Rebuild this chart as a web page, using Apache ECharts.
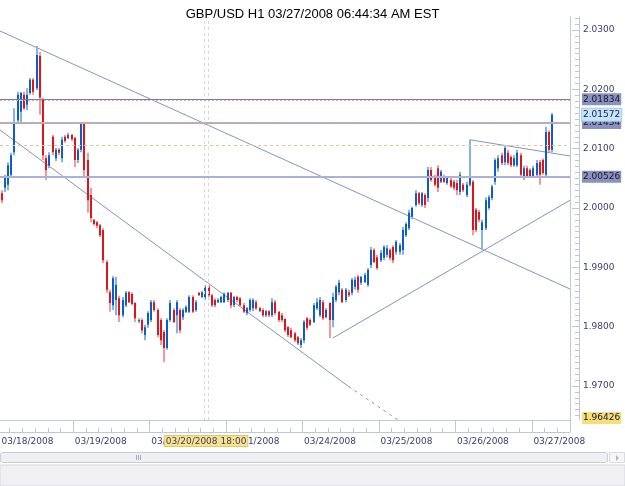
<!DOCTYPE html>
<html><head><meta charset="utf-8">
<script src="https://cdn.jsdelivr.net/npm/echarts@6/dist/echarts.min.js"></script>
<style>html,body{margin:0;padding:0;background:#fff;}#c{width:625px;height:486px;}</style>
</head><body><div id="c"></div>
<script>
// ---- data ----
const dayLabels = ['03/18/2008','03/19/2008','03/20/2008','03/21/2008','03/24/2008','03/25/2008','03/26/2008','03/27/2008'];
const yTickLabels = ['1.9700','1.9800','1.9900','2.0000','2.0100','2.0200','2.0300'];
// [open, close, low, high] per hour
const d0318 = [[2.0025,2.0013,2.0008,2.0030],[2.0034,2.0051,2.0027,2.0056],[2.0039,2.0072,2.0030,2.0077],[2.0056,2.0089,2.0051,2.0093],[2.0094,2.0145,2.0089,2.0168],[2.0148,2.0191,2.0143,2.0196],[2.0162,2.0194,2.0145,2.0196],[2.0191,2.0168,2.0165,2.0196],[2.0174,2.0191,2.0165,2.0202],[2.0194,2.0216,2.0191,2.0219],[2.0216,2.0196,2.0191,2.0219],[2.0202,2.0258,2.0199,2.0273],[2.0256,2.0186,2.0157,2.0263],[2.0182,2.0089,2.0081,2.0186],[2.0084,2.0064,2.0047,2.0089],[2.0071,2.0089,2.0067,2.0094],[2.0120,2.0094,2.0089,2.0123],[2.0084,2.0098,2.0079,2.0101],[2.0098,2.0093,2.0089,2.0101],[2.0084,2.0115,2.0077,2.0120],[2.0120,2.0113,2.0110,2.0123],[2.0118,2.0123,2.0116,2.0127],[2.0123,2.0116,2.0113,2.0125]];
const d0319 = [[2.0118,2.0081,2.0069,2.0120],[2.0081,2.0098,2.0076,2.0101],[2.0098,2.0142,2.0094,2.0143],[2.0142,2.0064,2.0051,2.0143],[2.0081,2.0013,1.9992,2.0093],[2.0022,1.9983,1.9976,2.0034],[1.9980,1.9973,1.9970,1.9981],[1.9976,1.9970,1.9966,1.9978],[1.9971,1.9954,1.9951,1.9973],[1.9963,1.9912,1.9907,1.9966],[1.9909,1.9862,1.9857,1.9912],[1.9858,1.9840,1.9825,1.9862],[1.9836,1.9882,1.9828,1.9885],[1.9845,1.9870,1.9819,1.9884],[1.9848,1.9819,1.9808,1.9852],[1.9819,1.9845,1.9816,1.9850],[1.9836,1.9857,1.9833,1.9860],[1.9858,1.9841,1.9840,1.9860],[1.9855,1.9838,1.9836,1.9858],[1.9840,1.9814,1.9808,1.9841],[1.9809,1.9811,1.9806,1.9814],[1.9811,1.9794,1.9789,1.9814],[1.9786,1.9799,1.9777,1.9803],[1.9803,1.9823,1.9798,1.9826]];
const d0320 = [[1.9811,1.9841,1.9808,1.9845],[1.9841,1.9828,1.9825,1.9845],[1.9828,1.9786,1.9782,1.9831],[1.9811,1.9777,1.9769,1.9814],[1.9791,1.9764,1.9740,1.9794],[1.9764,1.9811,1.9761,1.9814],[1.9811,1.9840,1.9808,1.9845],[1.9828,1.9808,1.9806,1.9831],[1.9819,1.9841,1.9789,1.9845],[1.9828,1.9794,1.9789,1.9831],[1.9816,1.9828,1.9811,1.9831],[1.9825,1.9833,1.9823,1.9836],[1.9825,1.9850,1.9823,1.9853],[1.9850,1.9825,1.9823,1.9853],[1.9828,1.9841,1.9825,1.9845],[1.9857,1.9853,1.9852,1.9858],[1.9850,1.9858,1.9848,1.9860],[1.9848,1.9867,1.9845,1.9870],[1.9867,1.9853,1.9850,1.9870],[1.9853,1.9836,1.9833,1.9855],[1.9845,1.9836,1.9833,1.9848],[1.9841,1.9845,1.9840,1.9848],[1.9841,1.9850,1.9840,1.9852],[1.9841,1.9855,1.9840,1.9858]];
const d0321 = [[1.9845,1.9857,1.9841,1.9858],[1.9857,1.9836,1.9831,1.9858],[1.9836,1.9850,1.9833,1.9852],[1.9850,1.9845,1.9841,1.9852],[1.9848,1.9836,1.9833,1.9850],[1.9836,1.9825,1.9823,1.9840],[1.9823,1.9831,1.9819,1.9833],[1.9828,1.9845,1.9825,1.9848],[1.9831,1.9845,1.9826,1.9848],[1.9841,1.9831,1.9828,1.9845],[1.9831,1.9826,1.9825,1.9833],[1.9828,1.9819,1.9816,1.9831],[1.9819,1.9826,1.9816,1.9828],[1.9826,1.9819,1.9816,1.9828],[1.9819,1.9841,1.9816,1.9848],[1.9841,1.9823,1.9819,1.9845],[1.9825,1.9811,1.9808,1.9826],[1.9819,1.9811,1.9808,1.9823],[1.9813,1.9794,1.9791,1.9814],[1.9799,1.9786,1.9782,1.9801],[1.9794,1.9782,1.9781,1.9798],[1.9789,1.9777,1.9774,1.9791],[1.9782,1.9772,1.9769,1.9784],[1.9769,1.9777,1.9764,1.9781]];
const d0324 = [[1.9777,1.9808,1.9772,1.9811],[1.9814,1.9798,1.9794,1.9816],[1.9811,1.9803,1.9801,1.9814],[1.9808,1.9836,1.9806,1.9840],[1.9831,1.9841,1.9828,1.9848],[1.9819,1.9845,1.9816,1.9850],[1.9841,1.9814,1.9811,1.9845],[1.9816,1.9828,1.9814,1.9831],[1.9840,1.9811,1.9781,1.9841],[1.9811,1.9850,1.9799,1.9857],[1.9845,1.9867,1.9841,1.9870],[1.9858,1.9874,1.9853,1.9879],[1.9862,1.9841,1.9840,1.9865],[1.9845,1.9862,1.9841,1.9865],[1.9858,1.9853,1.9850,1.9862],[1.9857,1.9879,1.9853,1.9882],[1.9867,1.9879,1.9862,1.9884],[1.9884,1.9862,1.9857,1.9887],[1.9874,1.9884,1.9870,1.9885],[1.9875,1.9887,1.9874,1.9891],[1.9870,1.9896,1.9867,1.9899],[1.9904,1.9929,1.9899,1.9934],[1.9929,1.9909,1.9907,1.9932],[1.9917,1.9899,1.9896,1.9921]];
const d0325 = [[1.9912,1.9924,1.9909,1.9929],[1.9916,1.9934,1.9912,1.9937],[1.9921,1.9932,1.9917,1.9937],[1.9929,1.9916,1.9912,1.9932],[1.9934,1.9912,1.9907,1.9937],[1.9926,1.9943,1.9921,1.9946],[1.9926,1.9937,1.9921,1.9941],[1.9929,1.9963,1.9921,1.9968],[1.9954,1.9973,1.9951,1.9976],[1.9966,1.9992,1.9963,1.9997],[1.9985,2.0000,1.9981,2.0002],[2.0005,2.0025,2.0002,2.0030],[2.0025,2.0008,2.0005,2.0027],[2.0005,2.0025,2.0002,2.0027],[2.0022,2.0005,2.0000,2.0025],[2.0017,2.0064,2.0010,2.0069],[2.0064,2.0047,2.0044,2.0069],[2.0052,2.0039,2.0036,2.0056],[2.0067,2.0034,2.0027,2.0072],[2.0044,2.0061,2.0042,2.0064],[2.0052,2.0044,2.0042,2.0056],[2.0042,2.0051,2.0039,2.0052],[2.0047,2.0036,2.0034,2.0051],[2.0044,2.0034,2.0030,2.0047]];
const d0326 = [[2.0042,2.0030,2.0022,2.0047],[2.0027,2.0056,2.0022,2.0061],[2.0039,2.0030,2.0027,2.0042],[2.0022,2.0039,2.0018,2.0044],[2.0039,2.0052,2.0036,2.0115],[2.0044,1.9963,1.9954,2.0047],[1.9997,1.9963,1.9959,2.0000],[1.9993,1.9980,1.9976,1.9997],[1.9963,1.9976,1.9929,1.9980],[1.9966,2.0013,1.9963,2.0018],[2.0000,2.0018,1.9997,2.0022],[2.0017,2.0036,2.0013,2.0039],[2.0044,2.0081,2.0039,2.0084],[2.0067,2.0084,2.0061,2.0089],[2.0089,2.0076,2.0072,2.0093],[2.0077,2.0101,2.0072,2.0106],[2.0093,2.0076,2.0072,2.0098],[2.0086,2.0072,2.0069,2.0089],[2.0072,2.0084,2.0069,2.0089],[2.0072,2.0093,2.0069,2.0098],[2.0089,2.0056,2.0052,2.0093],[2.0052,2.0067,2.0047,2.0071],[2.0067,2.0052,2.0051,2.0071],[2.0064,2.0052,2.0051,2.0067]];
const d0327 = [[2.0052,2.0067,2.0051,2.0071],[2.0056,2.0076,2.0052,2.0081],[2.0077,2.0056,2.0039,2.0081],[2.0081,2.0059,2.0056,2.0084],[2.0056,2.0128,2.0052,2.0137],[2.0128,2.0098,2.0094,2.0131],[2.0098,2.01572,2.0094,2.0160]];
// horizontal price levels
const levelSolid = [2.01834, 2.01434, 2.00526];
const bidLevel = 2.01572;
const askLevel = 2.01061;
const axisMin = 1.96426, axisMax = 2.03219;
// trend lines: [hourIndex, price]
const trend1 = [[-0.5, 2.02983], [178.5, 1.98634]];
const trend2 = [[-0.5, 2.01314], [109, 1.96990]];
const trend2ext = [[109, 1.96990], [125.2, 1.96400]];
const trend3 = [[104, 1.97807], [178.5, 2.00130]];
const trend4 = [[147, 2.01150], [178.5, 2.00876]];
const crossIndex = 64.2, crossLabel = '03/20/2008 18:00';

// ---- build ----
const pad = n => (n < 10 ? '0' : '') + n;
let categories = [];
dayLabels.forEach((d, i) => { for (let h = (i === 0 ? 1 : 0); h < 24; h++) categories.push(d + ' ' + pad(h) + ':00'); });
categories = categories.slice(0, 179);
const allCandles = [].concat(d0318, d0319, d0320, d0321, d0324, d0325, d0326, d0327);
const candleData = allCandles.map((c, k) => [k, c[0], c[1], c[2], c[3]]);
const majorTicks = yTickLabels.map(Number);
const minorTicks = []; for (let i = 1965; i <= 2032; i++) minorTicks.push(i / 1000);

const AX = '#c2c6da', TXT = '#3a3c6a', FONT = 'DejaVu Sans', CLEAR = 'rgba(0,0,0,0)';
function renderCandle(params, api) {
  const k = api.value(0), o = api.value(1), c = api.value(2), l = api.value(3), h = api.value(4);
  const pO = api.coord([k, o]), pC = api.coord([k, c]), pH = api.coord([k, h]), pL = api.coord([k, l]);
  const x = Math.round(pO[0] - 1);
  const up = c >= o;
  const yTop = Math.min(pO[1], pC[1]), yBot = Math.max(pO[1], pC[1]);
  return { type: 'group', children: [
    { type: 'rect', shape: { x: x, y: pH[1], width: 2, height: Math.max(1, pL[1] - pH[1]) }, style: { fill: up ? '#86b2e4' : '#f29a9a' } },
    { type: 'rect', shape: { x: x, y: yTop, width: 2, height: Math.max(1, yBot - yTop) }, style: { fill: up ? '#0c5ccc' : '#e0141c' } }
  ]};
}
const lvlLabel = (txt, bg, col) => ({ show: true, position: 'end', distance: 12, formatter: txt, backgroundColor: bg, color: col || '#14143a', fontFamily: FONT, fontSize: 9, padding: [2, 1, 1, 1] });
const trendStyle = { color: '#8a90c2', width: 1 };
const isDay = v => v.slice(11) === '00:00';
const noLine = { color: CLEAR, width: 1, type: 'solid' };

const option = {
  animation: false,
  backgroundColor: '#fff',
  title: { text: 'GBP/USD H1 03/27/2008 06:44:34 AM EST', left: 'center', top: 3, textStyle: { fontSize: 13, fontWeight: 'normal', fontFamily: 'Liberation Sans', color: '#000' } },
  grid: { left: 0, right: 55, top: 17, bottom: 66, outerBoundsMode: 'none', containLabel: false },
  xAxis: [
    { type: 'category', data: categories, boundaryGap: true,
      axisLine: { onZero: false, lineStyle: { color: AX } },
      axisTick: { show: true, length: 12, interval: (i, v) => isDay(v), lineStyle: { color: AX } },
      axisLabel: { interval: (i, v) => i === 0 || isDay(v), formatter: v => v.slice(0, 10), align: 'left', margin: 17, fontSize: 9, fontFamily: FONT, color: TXT, hideOverlap: false },
      splitLine: { show: false } },
    { type: 'value', min: -0.5, max: 178.5, show: false, axisLine: { onZero: false } },
    { type: 'category', data: categories, boundaryGap: true, position: 'bottom', offset: 12,
      axisLine: { onZero: false, lineStyle: { color: AX } },
      axisTick: { show: true, inside: true, length: 4, interval: (i, v) => { const h = +v.slice(11, 13); return h % 4 === 0 && h !== 0; }, lineStyle: { color: AX } },
      axisLabel: { show: false }, splitLine: { show: false } }
  ],
  yAxis: [
    { type: 'value', position: 'right', offset: 9, min: axisMin, max: axisMax, scale: true,
      axisLine: { show: true, onZero: false, lineStyle: { color: AX } },
      axisTick: { show: true, inside: true, length: 7, customValues: majorTicks, lineStyle: { color: AX } },
      axisLabel: { show: true, customValues: majorTicks, formatter: v => v.toFixed(4), margin: 4, fontSize: 9, fontFamily: FONT, color: TXT },
      splitLine: { show: false } },
    { type: 'value', position: 'right', offset: 9, min: axisMin, max: axisMax, scale: true,
      axisLine: { show: false, onZero: false },
      axisTick: { show: true, inside: true, length: 4, customValues: minorTicks, lineStyle: { color: AX } },
      axisLabel: { show: false }, splitLine: { show: false } },
    { type: 'value', position: 'right', offset: 0, min: axisMin, max: axisMax, scale: true,
      axisLine: { show: true, onZero: false, lineStyle: { color: AX } }, axisTick: { show: false }, axisLabel: { show: false }, splitLine: { show: false } }
  ],
  series: [
    { type: 'line', xAxisIndex: 1, yAxisIndex: 0, data: trend1, showSymbol: false, symbol: 'none', lineStyle: trendStyle, z: 1, silent: true,
      markLine: { symbol: ['none', 'none'], silent: true, animation: false, precision: 5,
        data: [
          { xAxis: 63.6, lineStyle: { color: '#d6d6de', type: [3, 3], width: 1 }, label: { show: false } },
          { xAxis: 64.8, lineStyle: { color: '#d6d6de', type: [3, 3], width: 1 }, label: { show: false } },
          { yAxis: levelSolid[0], lineStyle: { color: '#7c7cac', type: 'solid', width: 1 }, label: lvlLabel(String(levelSolid[0]), '#8a92bc') },
          { yAxis: levelSolid[0] - 0.00022, lineStyle: { color: '#f0a4a4', type: [2, 2], width: 1 }, label: { show: false } },
          { yAxis: levelSolid[1], lineStyle: { color: '#aab2da', type: 'solid', width: 2 }, label: lvlLabel(String(levelSolid[1]), '#8a92bc') },
          { yAxis: levelSolid[1] - 0.00008, lineStyle: { color: '#e8a060', type: [3, 2], width: 1 }, label: { show: false } },
          { yAxis: askLevel, lineStyle: { color: '#cfcf98', type: [3, 3], width: 1 }, label: { show: false } },
          { yAxis: levelSolid[2], lineStyle: { color: '#aab2da', type: 'solid', width: 2 }, label: lvlLabel(String(levelSolid[2]), '#8a92bc') },
          { yAxis: bidLevel, lineStyle: noLine, label: Object.assign(lvlLabel(String(bidLevel), '#c6e6f6', '#142060'), { borderColor: '#a8cce4', borderWidth: 1 }) },
          { yAxis: axisMin, lineStyle: noLine, label: Object.assign(lvlLabel(String(axisMin), '#f6de78'), { offset: [0, -2] }) },
          { xAxis: crossIndex, lineStyle: noLine, label: { show: true, position: 'start', distance: 16, formatter: crossLabel, backgroundColor: '#f8e48c', borderColor: '#e2c868', borderWidth: 1, padding: [1, 1, 0, 1], color: TXT, fontFamily: FONT, fontSize: 9 } }
        ] } },
    { type: 'line', xAxisIndex: 1, yAxisIndex: 0, data: trend2, showSymbol: false, symbol: 'none', lineStyle: trendStyle, z: 1, silent: true },
    { type: 'line', xAxisIndex: 1, yAxisIndex: 0, data: trend2ext, showSymbol: false, symbol: 'none', lineStyle: { color: '#8a90c2', width: 1, type: [3, 4] }, z: 1, silent: true },
    { type: 'line', xAxisIndex: 1, yAxisIndex: 0, data: trend3, showSymbol: false, symbol: 'none', lineStyle: trendStyle, z: 1, silent: true },
    { type: 'line', xAxisIndex: 1, yAxisIndex: 0, data: trend4, showSymbol: false, symbol: 'none', lineStyle: trendStyle, z: 1, silent: true },
    { type: 'custom', xAxisIndex: 0, yAxisIndex: 0, data: candleData, renderItem: renderCandle, encode: { x: 0, y: [1, 2, 3, 4] }, z: 3, silent: true, clip: true }
  ],
  graphic: [
    { type: 'rect', silent: true, shape: { x: 0, y: 465, width: 625, height: 21 }, style: { fill: '#f0f0f3', stroke: '#d6d6de', lineWidth: 1 } },
    { type: 'rect', silent: true, shape: { x: 0.5, y: 452.5, width: 607, height: 10, r: 2 }, style: { fill: '#eef0f4', stroke: '#c8ccd8', lineWidth: 1 } },
    { type: 'rect', silent: true, shape: { x: 609.5, y: 452.5, width: 15, height: 10 }, style: { fill: '#f6f6f8', stroke: '#dadae2', lineWidth: 1 } },
    { type: 'polygon', silent: true, shape: { points: [[616, 455], [616, 461], [619, 458]] }, style: { fill: '#b4b4bc' } },
    { type: 'line', silent: true, shape: { x1: 136.5, y1: 455, x2: 136.5, y2: 460 }, style: { stroke: '#a8acb8' } },
    { type: 'line', silent: true, shape: { x1: 138.5, y1: 455, x2: 138.5, y2: 460 }, style: { stroke: '#a8acb8' } },
    { type: 'line', silent: true, shape: { x1: 140.5, y1: 455, x2: 140.5, y2: 460 }, style: { stroke: '#a8acb8' } }
  ]
};
const chart = echarts.init(document.getElementById('c'), null, { renderer: 'canvas', width: 625, height: 486 });
chart.setOption(option);
</script></body></html>
